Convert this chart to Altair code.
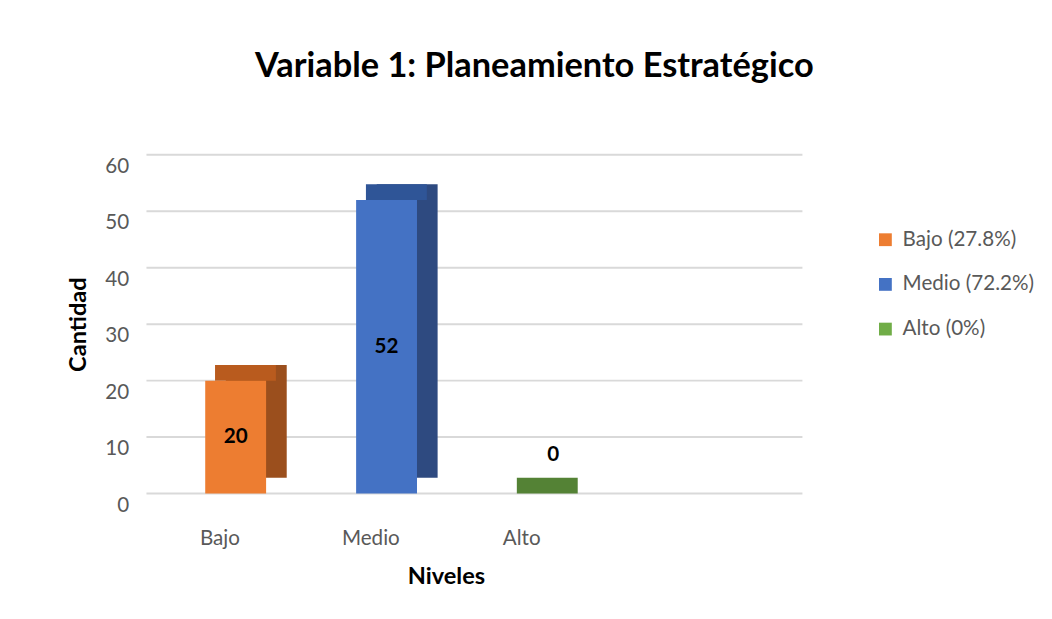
import altair as alt
import pandas as pd

categories = ["Bajo", "Medio", "Alto"]
values = [20, 52, 0]
legend_labels = ["Bajo (27.8%)", "Medio (72.2%)", "Alto (0%)"]
front_colors = ["#ED7D31", "#4472C4", "#70AD47"]
top_colors = ["#B95B1E", "#2F5597", "#548235"]
side_colors = ["#9B4F1D", "#2E4A80", "#43682B"]
y_ticks = [0, 10, 20, 30, 40, 50, 60]

df = pd.DataFrame({
    "nivel": categories,
    "cantidad": values,
    "leyenda": legend_labels,
    "top": top_colors,
    "side": side_colors,
})
grid_df = pd.DataFrame({"cantidad": y_ticks})

FONT = "Lato"
W, H = 668, 345
BAR = 62

x_enc = alt.X("nivel:N", sort=categories,
              scale=alt.Scale(domain=categories, range=[14, 475], paddingInner=0, paddingOuter=0),
              axis=alt.Axis(title="Niveles", labelAngle=0, labelFontSize=21, labelColor="#595959",
                            labelFont=FONT, labelPadding=35, labelOffset=-16, ticks=False, domain=False,
                            titleFont=FONT, titleFontSize=24, titleFontWeight="bold", titleColor="#000000",
                            titlePadding=17, titleX=305))
y_scale = alt.Scale(domain=[0, 60])
y_axis = alt.Axis(title="Cantidad", values=y_ticks, labelFontSize=21, labelColor="#595959",
                  labelFont=FONT, labelPadding=18, labelOffset=12, ticks=False, domain=False,
                  grid=False,
                  titleFont=FONT, titleFontSize=24, titleFontWeight="bold", titleColor="#000000",
                  titlePadding=15)
y_enc = alt.Y("cantidad:Q", scale=y_scale, axis=y_axis)

grid = alt.Chart(grid_df).mark_rule(color="#D9D9D9", strokeWidth=2).encode(
    y=y_enc, x=alt.value(0), x2=alt.value(W))

base = alt.Chart(df)

side = base.mark_bar(size=BAR, xOffset=21, yOffset=-16, opacity=1).encode(
    x=x_enc, y=y_enc, color=alt.Color("side:N", scale=None))

top = base.mark_tick(size=BAR, thickness=16, xOffset=10, yOffset=-8, opacity=1).encode(
    x=x_enc, y=y_enc, color=alt.Color("top:N", scale=None))

front = base.mark_bar(size=BAR, opacity=1).encode(
    x=x_enc, y=y_enc,
    color=alt.Color("leyenda:N", sort=legend_labels,
                    scale=alt.Scale(domain=legend_labels, range=front_colors),
                    legend=alt.Legend(title=None, orient="none", legendX=742, legendY=76,
                                      symbolType="square", symbolSize=170, symbolStrokeWidth=0,
                                      labelFont=FONT, labelFontSize=21, labelColor="#595959",
                                      rowPadding=23.5, labelOffset=7)))

inner_text = base.transform_filter("datum.cantidad > 0").transform_calculate(
    mid="datum.cantidad / 2").mark_text(font=FONT, fontSize=21, fontWeight="bold", color="#000000").encode(
    x=x_enc, y=alt.Y("mid:Q", scale=y_scale, axis=y_axis), text=alt.Text("cantidad:Q"))

zero_text = base.transform_filter("datum.cantidad == 0").mark_text(
    font=FONT, fontSize=21, fontWeight="bold", color="#000000", dy=-39, dx=16).encode(
    x=x_enc, y=y_enc, text=alt.Text("cantidad:Q"))

chart = alt.layer(grid, side, top, front, inner_text, zero_text).resolve_scale(color="independent").properties(
    width=W, height=H,
    background="white",
    title=alt.TitleParams("Variable 1: Planeamiento Estratégico", font=FONT, fontSize=35,
                          fontWeight="bold", color="#000000", anchor="middle", offset=71, dx=61),
    padding={"left": 59, "top": 37, "right": 10, "bottom": 10},
).configure_view(strokeWidth=0, stroke="transparent")

chart.save("out.html", embed_options={"renderer": "svg", "actions": False})
